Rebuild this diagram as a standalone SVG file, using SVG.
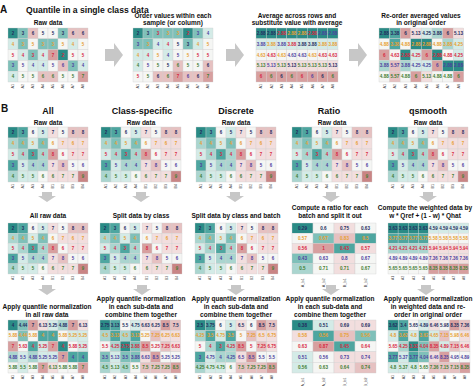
<svg xmlns="http://www.w3.org/2000/svg" width="474" height="386" viewBox="0 0 474 386">
<style>
text{font-family:"Liberation Sans",Arial,Helvetica,sans-serif;fill:#111}
.pl{font-size:10px;font-weight:bold}
.ti{font-size:8.6px;font-weight:bold}
.hd{font-size:9px;font-weight:bold;text-anchor:middle}
.st{font-size:6.5px;font-weight:bold;text-anchor:middle}
.g rect{width:10px;height:10px;stroke:#cfcfcf;stroke-width:.35}
.g.w rect{width:20px}
.g text{font-size:4.4px;font-weight:bold;text-anchor:middle}
.g text.lab{font-size:3.4px;font-weight:normal;text-anchor:start;fill:#444}
.g text.lr{font-size:3.8px}
.f0{fill:#2a8b86}.f1{fill:#4ea6a0}.f2{fill:#7fc0b9}.f3{fill:#aad5cf}.f4{fill:#d4ebe7}.f5{fill:#f5f6f4}.f6{fill:#f2dede}.f7{fill:#e6c1c1}.f8{fill:#d79f9f}.f9{fill:#c98585}
.g .t1{fill:#232c5e}.g .t2{fill:#e8a030}.g .t3{fill:#d8283f}.g .t4{fill:#4d3f9e}.g .t5{fill:#3f7d32}
.arr{fill:#c7c7c7}
</style>
<defs>
<path id="ar" class="arr" d="M0,-6H9V-12L18,0L9,12V6H0Z"/>
<path id="ad" class="arr" d="M-5,0H5V4H9L0,10L-9,4H-5Z"/>
<g class="g">
<g id="labA"><text class="lab" transform="translate(6.3,56) rotate(-90)">A1</text><text class="lab" transform="translate(16.3,56) rotate(-90)">A2</text><text class="lab" transform="translate(26.3,56) rotate(-90)">A3</text><text class="lab" transform="translate(36.3,56) rotate(-90)">A4</text><text class="lab" transform="translate(46.3,56) rotate(-90)">A5</text><text class="lab" transform="translate(56.3,56) rotate(-90)">A6</text><text class="lab" transform="translate(66.3,56) rotate(-90)">A7</text><text class="lab" transform="translate(76.3,56) rotate(-90)">A8</text></g>
<g id="labR"><text class="lab lr" transform="translate(11.3,63) rotate(-90)">A_b1</text><text class="lab lr" transform="translate(31.3,63) rotate(-90)">A_b2</text><text class="lab lr" transform="translate(51.3,63) rotate(-90)">B_b1</text><text class="lab lr" transform="translate(71.3,63) rotate(-90)">B_b2</text></g>
<g id="b1"><rect class="f0"/><rect y="10" class="f3"/><rect y="20" class="f4"/><rect y="30" class="f1"/><rect y="40" class="f3"/><text x="5" y="6.5" class="t1">2</text><text x="5" y="16.5" class="t2">4</text><text x="5" y="26.5" class="t3">5</text><text x="5" y="36.5" class="t4">3</text><text x="5" y="46.5" class="t5">4</text><text class="lab" transform="translate(6.3,56) rotate(-90)">A1</text></g>
<g id="b2"><rect class="f1"/><rect y="10" class="f2"/><rect y="20" class="f3"/><rect y="30" class="f4"/><rect y="40" class="f4"/><text x="5" y="6.5" class="t1">3</text><text x="5" y="16.5" class="t2">4</text><text x="5" y="26.5" class="t3">4</text><text x="5" y="36.5" class="t4">5</text><text x="5" y="46.5" class="t5">5</text><text class="lab" transform="translate(6.3,56) rotate(-90)">A2</text></g>
<g id="b3"><rect class="f5"/><rect y="10" class="f4"/><rect y="20" class="f1"/><rect y="30" class="f3"/><rect y="40" class="f4"/><text x="5" y="6.5" class="t1">6</text><text x="5" y="16.5" class="t2">5</text><text x="5" y="26.5" class="t3">3</text><text x="5" y="36.5" class="t4">4</text><text x="5" y="46.5" class="t5">5</text><text class="lab" transform="translate(6.3,56) rotate(-90)">A3</text></g>
<g id="b4"><rect class="f4"/><rect y="10" class="f2"/><rect y="20" class="f3"/><rect y="30" class="f3"/><rect y="40" class="f5"/><text x="5" y="6.5" class="t1">5</text><text x="5" y="16.5" class="t2">4</text><text x="5" y="26.5" class="t3">4</text><text x="5" y="36.5" class="t4">4</text><text x="5" y="46.5" class="t5">6</text><text class="lab" transform="translate(6.3,56) rotate(-90)">A4</text></g>
<g id="b5"><rect class="f6"/><rect y="10" class="f5"/><rect y="20" class="f8"/><rect y="30" class="f6"/><rect y="40" class="f6"/><text x="5" y="6.5" class="t1">7</text><text x="5" y="16.5" class="t2">6</text><text x="5" y="26.5" class="t3">8</text><text x="5" y="36.5" class="t4">7</text><text x="5" y="46.5" class="t5">6</text><text class="lab" transform="translate(6.3,56) rotate(-90)">B1</text></g>
<g id="b6"><rect class="f5"/><rect y="10" class="f6"/><rect y="20" class="f5"/><rect y="30" class="f7"/><rect y="40" class="f6"/><text x="5" y="6.5" class="t1">5</text><text x="5" y="16.5" class="t2">7</text><text x="5" y="26.5" class="t3">6</text><text x="5" y="36.5" class="t4">8</text><text x="5" y="46.5" class="t5">7</text><text class="lab" transform="translate(6.3,56) rotate(-90)">B2</text></g>
<g id="b7"><rect class="f7"/><rect y="10" class="f6"/><rect y="20" class="f6"/><rect y="30" class="f5"/><rect y="40" class="f6"/><text x="5" y="6.5" class="t1">8</text><text x="5" y="16.5" class="t2">6</text><text x="5" y="26.5" class="t3">7</text><text x="5" y="36.5" class="t4">5</text><text x="5" y="46.5" class="t5">7</text><text class="lab" transform="translate(6.3,56) rotate(-90)">B3</text></g>
<g id="b8"><rect class="f7"/><rect y="10" class="f6"/><rect y="20" class="f6"/><rect y="30" class="f5"/><rect y="40" class="f9"/><text x="5" y="6.5" class="t1">8</text><text x="5" y="16.5" class="t2">7</text><text x="5" y="26.5" class="t3">7</text><text x="5" y="36.5" class="t4">6</text><text x="5" y="46.5" class="t5">9</text><text class="lab" transform="translate(6.3,56) rotate(-90)">B4</text></g>
<g id="rawB"><use href="#b1"/><use href="#b2" x="10"/><use href="#b3" x="20"/><use href="#b4" x="30"/><use href="#b5" x="40"/><use href="#b6" x="50"/><use href="#b7" x="60"/><use href="#b8" x="70"/></g>
</g>
</defs>
<rect width="474" height="386" fill="#fff"/>

<g id="panelA-title"><text class="pl" x="0" y="13">A</text><text class="ti" x="26" y="13">Quantile in a single class data</text></g>

<g id="a-raw"><text class="st" x="48" y="25">Raw data</text>
<g class="g" transform="translate(8,28) scale(1,1.08)">
<rect class="f0"/><rect x="10" class="f2"/><rect x="20" class="f7"/><rect x="30" class="f5"/><rect x="40" class="f5"/><rect x="50" class="f2"/><rect x="60" class="f7"/><rect x="70" class="f7"/>
<rect y="10" class="f4"/><rect x="10" y="10" class="f2"/><rect x="20" y="10" class="f5"/><rect x="30" y="10" class="f2"/><rect x="40" y="10" class="f2"/><rect x="50" y="10" class="f5"/><rect x="60" y="10" class="f4"/><rect x="70" y="10" class="f5"/>
<rect y="20" class="f5"/><rect x="10" y="20" class="f4"/><rect x="20" y="20" class="f2"/><rect x="30" y="20" class="f4"/><rect x="40" y="20" class="f8"/><rect x="50" y="20" class="f0"/><rect x="60" y="20" class="f5"/><rect x="70" y="20" class="f5"/>
<rect y="30" class="f2"/><rect x="10" y="30" class="f5"/><rect x="20" y="30" class="f4"/><rect x="30" y="30" class="f4"/><rect x="40" y="30" class="f5"/><rect x="50" y="30" class="f7"/><rect x="60" y="30" class="f2"/><rect x="70" y="30" class="f4"/>
<rect y="40" class="f4"/><rect x="10" y="40" class="f5"/><rect x="20" y="40" class="f5"/><rect x="30" y="40" class="f7"/><rect x="40" y="40" class="f7"/><rect x="50" y="40" class="f5"/><rect x="60" y="40" class="f5"/><rect x="70" y="40" class="f8"/>
<text y="6.5" class="t1"><tspan x="5">2</tspan><tspan x="15">3</tspan><tspan x="25">6</tspan><tspan x="35">5</tspan><tspan x="45">5</tspan><tspan x="55">3</tspan><tspan x="65">6</tspan><tspan x="75">6</tspan></text>
<text y="16.5" class="t2"><tspan x="5">4</tspan><tspan x="15">3</tspan><tspan x="25">5</tspan><tspan x="35">3</tspan><tspan x="45">3</tspan><tspan x="55">5</tspan><tspan x="65">4</tspan><tspan x="75">5</tspan></text>
<text y="26.5" class="t3"><tspan x="5">5</tspan><tspan x="15">4</tspan><tspan x="25">3</tspan><tspan x="35">4</tspan><tspan x="45">7</tspan><tspan x="55">2</tspan><tspan x="65">5</tspan><tspan x="75">5</tspan></text>
<text y="36.5" class="t4"><tspan x="5">3</tspan><tspan x="15">5</tspan><tspan x="25">4</tspan><tspan x="35">4</tspan><tspan x="45">5</tspan><tspan x="55">6</tspan><tspan x="65">3</tspan><tspan x="75">4</tspan></text>
<text y="46.5" class="t5"><tspan x="5">4</tspan><tspan x="15">5</tspan><tspan x="25">5</tspan><tspan x="35">6</tspan><tspan x="45">6</tspan><tspan x="55">5</tspan><tspan x="65">5</tspan><tspan x="75">7</tspan></text>
<use href="#labA"/>
</g></g>

<g id="a-sorted"><text class="st" x="173" y="17.5">Order values within each</text><text class="st" x="173" y="25">sample (or column)</text>
<g class="g" transform="translate(133,28) scale(1,1.08)">
<rect class="f0"/><rect x="10" class="f2"/><rect x="20" class="f2"/><rect x="30" class="f2"/><rect x="40" class="f2"/><rect x="50" class="f0"/><rect x="60" class="f2"/><rect x="70" class="f4"/>
<rect y="10" class="f2"/><rect x="10" y="10" class="f2"/><rect x="20" y="10" class="f4"/><rect x="30" y="10" class="f4"/><rect x="40" y="10" class="f5"/><rect x="50" y="10" class="f2"/><rect x="60" y="10" class="f4"/><rect x="70" y="10" class="f5"/>
<rect y="20" class="f4"/><rect x="10" y="20" class="f4"/><rect x="20" y="20" class="f5"/><rect x="30" y="20" class="f4"/><rect x="40" y="20" class="f5"/><rect x="50" y="20" class="f5"/><rect x="60" y="20" class="f5"/><rect x="70" y="20" class="f5"/>
<rect y="30" class="f4"/><rect x="10" y="30" class="f5"/><rect x="20" y="30" class="f5"/><rect x="30" y="30" class="f5"/><rect x="40" y="30" class="f7"/><rect x="50" y="30" class="f5"/><rect x="60" y="30" class="f5"/><rect x="70" y="30" class="f7"/>
<rect y="40" class="f5"/><rect x="10" y="40" class="f5"/><rect x="20" y="40" class="f7"/><rect x="30" y="40" class="f7"/><rect x="40" y="40" class="f8"/><rect x="50" y="40" class="f7"/><rect x="60" y="40" class="f7"/><rect x="70" y="40" class="f8"/>
<text y="6.5"><tspan x="5" class="t1">2</tspan><tspan x="15" class="t1">3</tspan><tspan x="25" class="t3">3</tspan><tspan x="35" class="t2">3</tspan><tspan x="45" class="t2">3</tspan><tspan x="55" class="t3">2</tspan><tspan x="65" class="t4">3</tspan><tspan x="75" class="t4">4</tspan></text>
<text y="16.5"><tspan x="5" class="t4">3</tspan><tspan x="15" class="t2">3</tspan><tspan x="25" class="t4">4</tspan><tspan x="35" class="t3">4</tspan><tspan x="45" class="t1">5</tspan><tspan x="55" class="t1">3</tspan><tspan x="65" class="t2">4</tspan><tspan x="75" class="t2">5</tspan></text>
<text y="26.5"><tspan x="5" class="t2">4</tspan><tspan x="15" class="t3">4</tspan><tspan x="25" class="t2">5</tspan><tspan x="35" class="t4">4</tspan><tspan x="45" class="t4">5</tspan><tspan x="55" class="t2">5</tspan><tspan x="65" class="t3">5</tspan><tspan x="75" class="t3">5</tspan></text>
<text y="36.5"><tspan x="5" class="t5">4</tspan><tspan x="15" class="t4">5</tspan><tspan x="25" class="t5">5</tspan><tspan x="35" class="t1">5</tspan><tspan x="45" class="t5">6</tspan><tspan x="55" class="t5">5</tspan><tspan x="65" class="t5">5</tspan><tspan x="75" class="t1">6</tspan></text>
<text y="46.5"><tspan x="5" class="t3">5</tspan><tspan x="15" class="t5">5</tspan><tspan x="25" class="t1">6</tspan><tspan x="35" class="t5">6</tspan><tspan x="45" class="t3">7</tspan><tspan x="55" class="t4">6</tspan><tspan x="65" class="t1">6</tspan><tspan x="75" class="t5">7</tspan></text>
<use href="#labA"/>
</g></g>

<g id="a-average"><text class="st" x="297" y="17.5">Average across rows and</text><text class="st" x="297" y="25">substitute value with average</text>
<g class="g" transform="translate(256,28) scale(1.025,1.08)">
<rect class="f0"/><rect x="10" class="f0"/><rect x="20" class="f0"/><rect x="30" class="f0"/><rect x="40" class="f0"/><rect x="50" class="f0"/><rect x="60" class="f0"/><rect x="70" class="f0"/>
<rect y="10" class="f4"/><rect x="10" y="10" class="f4"/><rect x="20" y="10" class="f4"/><rect x="30" y="10" class="f4"/><rect x="40" y="10" class="f4"/><rect x="50" y="10" class="f4"/><rect x="60" y="10" class="f4"/><rect x="70" y="10" class="f4"/>
<rect y="20" class="f5"/><rect x="10" y="20" class="f5"/><rect x="20" y="20" class="f5"/><rect x="30" y="20" class="f5"/><rect x="40" y="20" class="f5"/><rect x="50" y="20" class="f5"/><rect x="60" y="20" class="f5"/><rect x="70" y="20" class="f5"/>
<rect y="30" class="f6"/><rect x="10" y="30" class="f6"/><rect x="20" y="30" class="f6"/><rect x="30" y="30" class="f6"/><rect x="40" y="30" class="f6"/><rect x="50" y="30" class="f6"/><rect x="60" y="30" class="f6"/><rect x="70" y="30" class="f6"/>
<rect y="40" class="f8"/><rect x="10" y="40" class="f8"/><rect x="20" y="40" class="f8"/><rect x="30" y="40" class="f8"/><rect x="40" y="40" class="f8"/><rect x="50" y="40" class="f8"/><rect x="60" y="40" class="f8"/><rect x="70" y="40" class="f8"/>
<text y="6.5"><tspan x="5" class="t1">2.88</tspan><tspan x="15" class="t1">2.88</tspan><tspan x="25" class="t3">2.88</tspan><tspan x="35" class="t2">2.88</tspan><tspan x="45" class="t2">2.88</tspan><tspan x="55" class="t3">2.88</tspan><tspan x="65" class="t4">2.88</tspan><tspan x="75" class="t4">2.88</tspan></text>
<text y="16.5"><tspan x="5" class="t4">3.88</tspan><tspan x="15" class="t2">3.88</tspan><tspan x="25" class="t4">3.88</tspan><tspan x="35" class="t3">3.88</tspan><tspan x="45" class="t1">3.88</tspan><tspan x="55" class="t1">3.88</tspan><tspan x="65" class="t2">3.88</tspan><tspan x="75" class="t2">3.88</tspan></text>
<text y="26.5"><tspan x="5" class="t2">4.63</tspan><tspan x="15" class="t3">4.63</tspan><tspan x="25" class="t2">4.63</tspan><tspan x="35" class="t4">4.63</tspan><tspan x="45" class="t4">4.63</tspan><tspan x="55" class="t2">4.63</tspan><tspan x="65" class="t3">4.63</tspan><tspan x="75" class="t3">4.63</tspan></text>
<text y="36.5"><tspan x="5" class="t5">5.13</tspan><tspan x="15" class="t4">5.13</tspan><tspan x="25" class="t5">5.13</tspan><tspan x="35" class="t1">5.13</tspan><tspan x="45" class="t5">5.13</tspan><tspan x="55" class="t5">5.13</tspan><tspan x="65" class="t5">5.13</tspan><tspan x="75" class="t1">5.13</tspan></text>
<text y="46.5"><tspan x="5" class="t3">6</tspan><tspan x="15" class="t5">6</tspan><tspan x="25" class="t1">6</tspan><tspan x="35" class="t5">6</tspan><tspan x="45" class="t3">6</tspan><tspan x="55" class="t4">6</tspan><tspan x="65" class="t1">6</tspan><tspan x="75" class="t5">6</tspan></text>
<use href="#labA"/>
</g></g>

<g id="a-reorder"><text class="st" x="421" y="17.5">Re-order averaged values</text><text class="st" x="421" y="25">in original order</text>
<g class="g" transform="translate(379,28) scale(1.06,1.08)">
<rect class="f0"/><rect x="10" class="f1"/><rect x="20" class="f8"/><rect x="30" class="f6"/><rect x="40" class="f4"/><rect x="50" class="f3"/><rect x="60" class="f8"/><rect x="70" class="f6"/>
<rect y="10" class="f5"/><rect x="10" y="10" class="f1"/><rect x="20" y="10" class="f5"/><rect x="30" y="10" class="f0"/><rect x="40" y="10" class="f0"/><rect x="50" y="10" class="f5"/><rect x="60" y="10" class="f3"/><rect x="70" y="10" class="f4"/>
<rect y="20" class="f8"/><rect x="10" y="20" class="f5"/><rect x="20" y="20" class="f0"/><rect x="30" y="20" class="f4"/><rect x="40" y="20" class="f8"/><rect x="50" y="20" class="f0"/><rect x="60" y="20" class="f5"/><rect x="70" y="20" class="f4"/>
<rect y="30" class="f3"/><rect x="10" y="30" class="f7"/><rect x="20" y="30" class="f3"/><rect x="30" y="30" class="f4"/><rect x="40" y="30" class="f4"/><rect x="50" y="30" class="f8"/><rect x="60" y="30" class="f0"/><rect x="70" y="30" class="f0"/>
<rect y="40" class="f5"/><rect x="10" y="40" class="f7"/><rect x="20" y="40" class="f5"/><rect x="30" y="40" class="f8"/><rect x="40" y="40" class="f6"/><rect x="50" y="40" class="f5"/><rect x="60" y="40" class="f5"/><rect x="70" y="40" class="f8"/>
<text y="6.5" class="t1"><tspan x="5">2.88</tspan><tspan x="15">3.38</tspan><tspan x="25">6</tspan><tspan x="35">5.13</tspan><tspan x="45">4.25</tspan><tspan x="55">3.88</tspan><tspan x="65">6</tspan><tspan x="75">5.13</tspan></text>
<text y="16.5" class="t2"><tspan x="5">4.88</tspan><tspan x="15">3.38</tspan><tspan x="25">4.88</tspan><tspan x="35">2.88</tspan><tspan x="45">2.88</tspan><tspan x="55">4.88</tspan><tspan x="65">3.88</tspan><tspan x="75">4.25</tspan></text>
<text y="26.5" class="t3"><tspan x="5">6</tspan><tspan x="15">4.63</tspan><tspan x="25">2.88</tspan><tspan x="35">4.25</tspan><tspan x="45">6</tspan><tspan x="55">2.88</tspan><tspan x="65">4.88</tspan><tspan x="75">4.25</tspan></text>
<text y="36.5" class="t4"><tspan x="5">3.88</tspan><tspan x="15">5.57</tspan><tspan x="25">3.88</tspan><tspan x="35">4.25</tspan><tspan x="45">4.25</tspan><tspan x="55">6</tspan><tspan x="65">2.88</tspan><tspan x="75">2.88</tspan></text>
<text y="46.5" class="t5"><tspan x="5">4.88</tspan><tspan x="15">5.57</tspan><tspan x="25">4.88</tspan><tspan x="35">6</tspan><tspan x="45">5.13</tspan><tspan x="55">4.88</tspan><tspan x="65">4.88</tspan><tspan x="75">6</tspan></text>
<use href="#labA"/>
</g></g>

<g id="panelB-title"><text class="pl" x="1" y="112">B</text>
<text class="hd" x="48" y="114">All</text><text class="hd" x="142" y="114">Class-specific</text><text class="hd" x="236" y="114">Discrete</text><text class="hd" x="329" y="114">Ratio</text><text class="hd" x="428" y="114">qsmooth</text></g>

<g id="all-raw"><text class="st" x="48" y="125">Raw data</text><g class="g" transform="translate(8,127) scale(1,1.1)"><use href="#rawB"/></g></g>
<g id="class-raw"><text class="st" x="141" y="125">Raw data</text><g class="g" transform="translate(101,127) scale(1,1.1)"><use href="#rawB"/></g></g>
<g id="discrete-raw"><text class="st" x="236" y="125">Raw data</text><g class="g" transform="translate(196,127) scale(1,1.1)"><use href="#rawB"/></g></g>
<g id="ratio-raw"><text class="st" x="332" y="125">Raw data</text><g class="g" transform="translate(292,127) scale(1,1.1)"><use href="#rawB"/></g></g>
<g id="qsmooth-raw"><text class="st" x="428" y="125">Raw data</text><g class="g" transform="translate(388,127) scale(1,1.1)"><use href="#rawB"/></g></g>

<g id="all-mid"><text class="st" x="48" y="218">All raw data</text><g class="g" transform="translate(8,223) scale(1,1.02)"><use href="#rawB"/></g></g>
<g id="class-mid"><text class="st" x="141" y="218">Split data by class</text><g class="g" transform="translate(100,223) scale(1,1.02)"><use href="#b1"/><use href="#b2" x="10"/><use href="#b3" x="20"/><use href="#b4" x="30"/><use href="#b5" x="42"/><use href="#b6" x="52"/><use href="#b7" x="62"/><use href="#b8" x="72"/></g></g>
<g id="discrete-mid"><text class="st" x="236" y="218">Split data by class and batch</text><g class="g" transform="translate(195,223) scale(1,1.02)"><use href="#b1"/><use href="#b2" x="10"/><use href="#b3" x="21"/><use href="#b4" x="31"/><use href="#b5" x="42"/><use href="#b6" x="52"/><use href="#b7" x="63"/><use href="#b8" x="73"/></g></g>

<g id="ratio-mid"><text class="st" x="330" y="210">Compute a ratio for each</text><text class="st" x="330" y="218">batch and split it out</text>
<g class="g w" transform="translate(292,223) scale(1.05,1.02)">
<rect class="f0"/><rect x="20" class="f5"/><rect x="40" class="f6"/><rect x="60" class="f5"/>
<rect y="10" class="f5"/><rect x="20" y="10" class="f2"/><rect x="40" y="10" class="f7"/><rect x="60" y="10" class="f1"/>
<rect y="20" class="f6"/><rect x="20" y="20" class="f8"/><rect x="40" y="20" class="f1"/><rect x="60" y="20" class="f6"/>
<rect y="30" class="f2"/><rect x="20" y="30" class="f5"/><rect x="40" y="30" class="f6"/><rect x="60" y="30" class="f5"/>
<rect y="40" class="f3"/><rect x="20" y="40" class="f5"/><rect x="40" y="40" class="f6"/><rect x="60" y="40" class="f5"/>
<text y="6.5" class="t1"><tspan x="10">0.29</tspan><tspan x="30">0.6</tspan><tspan x="50">0.75</tspan><tspan x="70">0.63</tspan></text>
<text y="16.5" class="t2"><tspan x="10">0.57</tspan><tspan x="30">0.67</tspan><tspan x="50">0.83</tspan><tspan x="70">0.5</tspan></text>
<text y="26.5" class="t3"><tspan x="10">0.56</tspan><tspan x="30">1</tspan><tspan x="50">0.43</tspan><tspan x="70">0.57</tspan></text>
<text y="36.5" class="t4"><tspan x="10">0.43</tspan><tspan x="30">0.63</tspan><tspan x="50">0.8</tspan><tspan x="70">0.67</tspan></text>
<text y="46.5" class="t5"><tspan x="10">0.5</tspan><tspan x="30">0.71</tspan><tspan x="50">0.71</tspan><tspan x="70">0.67</tspan></text>
<use href="#labR"/>
</g></g>

<g id="qsmooth-mid"><text class="st" x="425" y="210">Compute the weighted data by</text><text class="st" x="425" y="218">w * Qref + (1 - w) * Qhat</text>
<g class="g" transform="translate(388,223) scale(1.01,1.02)">
<rect class="f0"/><rect x="10" class="f0"/><rect x="20" class="f0"/><rect x="30" class="f0"/><rect x="40" class="f4"/><rect x="50" class="f4"/><rect x="60" class="f4"/><rect x="70" class="f4"/>
<rect y="10" class="f1"/><rect x="10" y="10" class="f1"/><rect x="20" y="10" class="f1"/><rect x="30" y="10" class="f1"/><rect x="40" y="10" class="f5"/><rect x="50" y="10" class="f5"/><rect x="60" y="10" class="f5"/><rect x="70" y="10" class="f5"/>
<rect y="20" class="f3"/><rect x="10" y="20" class="f3"/><rect x="20" y="20" class="f3"/><rect x="30" y="20" class="f3"/><rect x="40" y="20" class="f6"/><rect x="50" y="20" class="f6"/><rect x="60" y="20" class="f6"/><rect x="70" y="20" class="f6"/>
<rect y="30" class="f5"/><rect x="10" y="30" class="f5"/><rect x="20" y="30" class="f5"/><rect x="30" y="30" class="f5"/><rect x="40" y="30" class="f6"/><rect x="50" y="30" class="f6"/><rect x="60" y="30" class="f6"/><rect x="70" y="30" class="f6"/>
<rect y="40" class="f5"/><rect x="10" y="40" class="f5"/><rect x="20" y="40" class="f5"/><rect x="30" y="40" class="f5"/><rect x="40" y="40" class="f8"/><rect x="50" y="40" class="f8"/><rect x="60" y="40" class="f8"/><rect x="70" y="40" class="f8"/>
<text y="6.5" class="t1"><tspan x="5">3.63</tspan><tspan x="15">3.63</tspan><tspan x="25">3.63</tspan><tspan x="35">3.63</tspan><tspan x="45">4.59</tspan><tspan x="55">4.59</tspan><tspan x="65">4.59</tspan><tspan x="75">4.59</tspan></text>
<text y="16.5" class="t2"><tspan x="5">3.77</tspan><tspan x="15">3.77</tspan><tspan x="25">3.77</tspan><tspan x="35">3.77</tspan><tspan x="45">5.58</tspan><tspan x="55">5.58</tspan><tspan x="65">5.58</tspan><tspan x="75">5.58</tspan></text>
<text y="26.5" class="t3"><tspan x="5">4.21</tspan><tspan x="15">4.21</tspan><tspan x="25">4.21</tspan><tspan x="35">4.21</tspan><tspan x="45">5.94</tspan><tspan x="55">5.94</tspan><tspan x="65">5.94</tspan><tspan x="75">5.94</tspan></text>
<text y="36.5" class="t4"><tspan x="5">4.89</tspan><tspan x="15">4.89</tspan><tspan x="25">4.89</tspan><tspan x="35">4.89</tspan><tspan x="45">7.36</tspan><tspan x="55">7.36</tspan><tspan x="65">7.36</tspan><tspan x="75">7.36</tspan></text>
<text y="46.5" class="t5"><tspan x="5">5.65</tspan><tspan x="15">5.65</tspan><tspan x="25">5.65</tspan><tspan x="35">5.65</tspan><tspan x="45">8.35</tspan><tspan x="55">8.35</tspan><tspan x="65">8.35</tspan><tspan x="75">8.35</tspan></text>
<use href="#labA"/>
</g></g>

<g id="all-out"><text class="st" x="47" y="309">Apply quantile normalization</text><text class="st" x="47" y="317.3">in all raw data</text>
<g class="g" transform="translate(8,320) scale(1,1.06)">
<rect class="f0"/><rect x="10" class="f2"/><rect x="20" class="f8"/><rect x="30" class="f6"/><rect x="40" class="f4"/><rect x="50" class="f3"/><rect x="60" class="f8"/><rect x="70" class="f6"/>
<rect y="10" class="f5"/><rect x="10" y="10" class="f2"/><rect x="20" y="10" class="f5"/><rect x="30" y="10" class="f1"/><rect x="40" y="10" class="f1"/><rect x="50" y="10" class="f5"/><rect x="60" y="10" class="f4"/><rect x="70" y="10" class="f4"/>
<rect y="20" class="f8"/><rect x="10" y="20" class="f5"/><rect x="20" y="20" class="f1"/><rect x="30" y="20" class="f4"/><rect x="40" y="20" class="f8"/><rect x="50" y="20" class="f0"/><rect x="60" y="20" class="f5"/><rect x="70" y="20" class="f4"/>
<rect y="30" class="f3"/><rect x="10" y="30" class="f4"/><rect x="20" y="30" class="f3"/><rect x="30" y="30" class="f4"/><rect x="40" y="30" class="f4"/><rect x="50" y="30" class="f8"/><rect x="60" y="30" class="f1"/><rect x="70" y="30" class="f1"/>
<rect y="40" class="f5"/><rect x="10" y="40" class="f4"/><rect x="20" y="40" class="f5"/><rect x="30" y="40" class="f8"/><rect x="40" y="40" class="f6"/><rect x="50" y="40" class="f5"/><rect x="60" y="40" class="f5"/><rect x="70" y="40" class="f8"/>
<text y="6.5" class="t1"><tspan x="5">4</tspan><tspan x="15">4.44</tspan><tspan x="25">7</tspan><tspan x="35">6.13</tspan><tspan x="45">5.25</tspan><tspan x="55">4.88</tspan><tspan x="65">7</tspan><tspan x="75">6.13</tspan></text>
<text y="16.5" class="t2"><tspan x="5">5.88</tspan><tspan x="15">4.44</tspan><tspan x="25">5.88</tspan><tspan x="35">4</tspan><tspan x="45">4</tspan><tspan x="55">5.88</tspan><tspan x="65">5.25</tspan><tspan x="75">5.25</tspan></text>
<text y="26.5" class="t3"><tspan x="5">7</tspan><tspan x="15">5.63</tspan><tspan x="25">4</tspan><tspan x="35">5.25</tspan><tspan x="45">7</tspan><tspan x="55">4</tspan><tspan x="65">5.88</tspan><tspan x="75">5.25</tspan></text>
<text y="36.5" class="t4"><tspan x="5">4.88</tspan><tspan x="15">5.5</tspan><tspan x="25">4.88</tspan><tspan x="35">5.25</tspan><tspan x="45">5.25</tspan><tspan x="55">7</tspan><tspan x="65">4</tspan><tspan x="75">4</tspan></text>
<text y="46.5" class="t5"><tspan x="5">5.88</tspan><tspan x="15">5.5</tspan><tspan x="25">5.88</tspan><tspan x="35">7</tspan><tspan x="45">6.13</tspan><tspan x="55">5.88</tspan><tspan x="65">5.88</tspan><tspan x="75">7</tspan></text>
<use href="#labA"/>
</g></g>

<g id="class-out"><text class="st" x="141" y="300.5">Apply quantile normalization</text><text class="st" x="141" y="308.8">in each sub-data and</text><text class="st" x="141" y="317">combine them together</text>
<g class="g" transform="translate(100,320) scale(1.01,1.06)">
<rect class="f0"/><rect x="10" class="f1"/><rect x="20" class="f5"/><rect x="30" class="f4"/><rect x="40" class="f6"/><rect x="50" class="f6"/><rect x="60" class="f8"/><rect x="70" class="f7"/>
<rect y="10" class="f3"/><rect x="10" y="10" class="f1"/><rect x="20" y="10" class="f3"/><rect x="30" y="10" class="f1"/><rect x="40" y="10" class="f5"/><rect x="50" y="10" class="f7"/><rect x="60" y="10" class="f6"/><rect x="70" y="10" class="f6"/>
<rect y="20" class="f5"/><rect x="10" y="20" class="f3"/><rect x="20" y="20" class="f0"/><rect x="30" y="20" class="f2"/><rect x="40" y="20" class="f8"/><rect x="50" y="20" class="f5"/><rect x="60" y="20" class="f7"/><rect x="70" y="20" class="f6"/>
<rect y="30" class="f2"/><rect x="10" y="30" class="f4"/><rect x="20" y="30" class="f2"/><rect x="30" y="30" class="f2"/><rect x="40" y="30" class="f6"/><rect x="50" y="30" class="f8"/><rect x="60" y="30" class="f5"/><rect x="70" y="30" class="f5"/>
<rect y="40" class="f3"/><rect x="10" y="40" class="f4"/><rect x="20" y="40" class="f3"/><rect x="30" y="40" class="f5"/><rect x="40" y="40" class="f7"/><rect x="50" y="40" class="f7"/><rect x="60" y="40" class="f7"/><rect x="70" y="40" class="f8"/>
<text y="6.5" class="t1"><tspan x="5">2.75</tspan><tspan x="15">3.13</tspan><tspan x="25">5.5</tspan><tspan x="35">4.75</tspan><tspan x="45">6.63</tspan><tspan x="55">6.25</tspan><tspan x="65">8.5</tspan><tspan x="75">7.5</tspan></text>
<text y="16.5" class="t2"><tspan x="5">4.5</tspan><tspan x="15">3.13</tspan><tspan x="25">4.5</tspan><tspan x="35">3.13</tspan><tspan x="45">5.25</tspan><tspan x="55">7.25</tspan><tspan x="65">6.25</tspan><tspan x="75">6.63</tspan></text>
<text y="26.5" class="t3"><tspan x="5">5.5</tspan><tspan x="15">4.25</tspan><tspan x="25">2.75</tspan><tspan x="35">3.88</tspan><tspan x="45">8.5</tspan><tspan x="55">5.25</tspan><tspan x="65">7.25</tspan><tspan x="75">6.63</tspan></text>
<text y="36.5" class="t4"><tspan x="5">3.5</tspan><tspan x="15">5.13</tspan><tspan x="25">3.5</tspan><tspan x="35">3.88</tspan><tspan x="45">6.63</tspan><tspan x="55">8.5</tspan><tspan x="65">5.25</tspan><tspan x="75">5.25</tspan></text>
<text y="46.5" class="t5"><tspan x="5">4.5</tspan><tspan x="15">5.13</tspan><tspan x="25">4.5</tspan><tspan x="35">5.5</tspan><tspan x="45">7.5</tspan><tspan x="55">7.25</tspan><tspan x="65">7.25</tspan><tspan x="75">8.5</tspan></text>
<use href="#labA"/>
</g></g>

<g id="discrete-out"><text class="st" x="236" y="300.5">Apply quantile normalization</text><text class="st" x="236" y="308.8">in each sub-data and</text><text class="st" x="236" y="317">combine them together</text>
<g class="g" transform="translate(195,320) scale(1.025,1.06)">
<rect class="f0"/><rect x="10" class="f1"/><rect x="20" class="f5"/><rect x="30" class="f4"/><rect x="40" class="f6"/><rect x="50" class="f5"/><rect x="60" class="f8"/><rect x="70" class="f7"/>
<rect y="10" class="f3"/><rect x="10" y="10" class="f1"/><rect x="20" y="10" class="f4"/><rect x="30" y="10" class="f1"/><rect x="40" y="10" class="f5"/><rect x="50" y="10" class="f7"/><rect x="60" y="10" class="f6"/><rect x="70" y="10" class="f6"/>
<rect y="20" class="f5"/><rect x="10" y="20" class="f3"/><rect x="20" y="20" class="f1"/><rect x="30" y="20" class="f3"/><rect x="40" y="20" class="f8"/><rect x="50" y="20" class="f5"/><rect x="60" y="20" class="f7"/><rect x="70" y="20" class="f6"/>
<rect y="30" class="f1"/><rect x="10" y="30" class="f4"/><rect x="20" y="30" class="f3"/><rect x="30" y="30" class="f3"/><rect x="40" y="30" class="f6"/><rect x="50" y="30" class="f8"/><rect x="60" y="30" class="f5"/><rect x="70" y="30" class="f5"/>
<rect y="40" class="f3"/><rect x="10" y="40" class="f4"/><rect x="20" y="40" class="f4"/><rect x="30" y="40" class="f5"/><rect x="40" y="40" class="f7"/><rect x="50" y="40" class="f7"/><rect x="60" y="40" class="f7"/><rect x="70" y="40" class="f8"/>
<text y="6.5" class="t1"><tspan x="5">2.5</tspan><tspan x="15">3.75</tspan><tspan x="25">6</tspan><tspan x="35">5</tspan><tspan x="45">6.5</tspan><tspan x="55">6</tspan><tspan x="65">8.5</tspan><tspan x="75">7.5</tspan></text>
<text y="16.5" class="t2"><tspan x="5">4.25</tspan><tspan x="15">3.5</tspan><tspan x="25">4.75</tspan><tspan x="35">3.5</tspan><tspan x="45">5</tspan><tspan x="55">7.25</tspan><tspan x="65">6.5</tspan><tspan x="75">6.75</tspan></text>
<text y="26.5" class="t3"><tspan x="5">5</tspan><tspan x="15">4</tspan><tspan x="25">3</tspan><tspan x="35">4.25</tspan><tspan x="45">8.5</tspan><tspan x="55">5</tspan><tspan x="65">7.25</tspan><tspan x="75">6.75</tspan></text>
<text y="36.5" class="t4"><tspan x="5">3</tspan><tspan x="15">4.75</tspan><tspan x="25">4</tspan><tspan x="35">4.25</tspan><tspan x="45">6.5</tspan><tspan x="55">8.5</tspan><tspan x="65">5.5</tspan><tspan x="75">5.5</tspan></text>
<text y="46.5" class="t5"><tspan x="5">4.25</tspan><tspan x="15">4.75</tspan><tspan x="25">4.75</tspan><tspan x="35">6</tspan><tspan x="45">7.5</tspan><tspan x="55">7.25</tspan><tspan x="65">7.25</tspan><tspan x="75">8.5</tspan></text>
<use href="#labA"/>
</g></g>

<g id="ratio-out"><text class="st" x="330" y="300.5">Apply quantile normalization</text><text class="st" x="330" y="308.8">in each sub-data and</text><text class="st" x="330" y="317">combine them together</text>
<g class="g w" transform="translate(292,320) scale(1.05,1.06)">
<rect class="f0"/><rect x="20" class="f4"/><rect x="40" class="f6"/><rect x="60" class="f6"/>
<rect y="10" class="f6"/><rect x="20" y="10" class="f1"/><rect x="40" y="10" class="f7"/><rect x="60" y="10" class="f2"/>
<rect y="20" class="f5"/><rect x="20" y="20" class="f8"/><rect x="40" y="20" class="f1"/><rect x="60" y="20" class="f5"/>
<rect y="30" class="f4"/><rect x="20" y="30" class="f5"/><rect x="40" y="30" class="f6"/><rect x="60" y="30" class="f6"/>
<rect y="40" class="f4"/><rect x="20" y="40" class="f5"/><rect x="40" y="40" class="f6"/><rect x="60" y="40" class="f7"/>
<text y="6.5" class="t1"><tspan x="10">0.38</tspan><tspan x="30">0.51</tspan><tspan x="50">0.69</tspan><tspan x="70">0.69</tspan></text>
<text y="16.5" class="t2"><tspan x="10">0.58</tspan><tspan x="30">0.56</tspan><tspan x="50">0.75</tspan><tspan x="70">0.56</tspan></text>
<text y="26.5" class="t3"><tspan x="10">0.63</tspan><tspan x="30">0.87</tspan><tspan x="50">0.45</tspan><tspan x="70">0.64</tspan></text>
<text y="36.5" class="t4"><tspan x="10">0.51</tspan><tspan x="30">0.56</tspan><tspan x="50">0.73</tspan><tspan x="70">0.74</tspan></text>
<text y="46.5" class="t5"><tspan x="10">0.56</tspan><tspan x="30">0.63</tspan><tspan x="50">0.64</tspan><tspan x="70">0.74</tspan></text>
<use href="#labR"/>
</g></g>

<g id="qsmooth-out"><text class="st" x="428" y="300.5">Apply quantile normalization</text><text class="st" x="428" y="308.8">in weighted data and re-</text><text class="st" x="428" y="317">order in original order</text>
<g class="g" transform="translate(388,320) scale(1.025,1.06)">
<rect class="f0"/><rect x="10" class="f1"/><rect x="20" class="f5"/><rect x="30" class="f4"/><rect x="40" class="f6"/><rect x="50" class="f5"/><rect x="60" class="f8"/><rect x="70" class="f7"/>
<rect y="10" class="f4"/><rect x="10" y="10" class="f1"/><rect x="20" y="10" class="f4"/><rect x="30" y="10" class="f1"/><rect x="40" y="10" class="f4"/><rect x="50" y="10" class="f7"/><rect x="60" y="10" class="f5"/><rect x="70" y="10" class="f6"/>
<rect y="20" class="f5"/><rect x="10" y="20" class="f3"/><rect x="20" y="20" class="f0"/><rect x="30" y="20" class="f2"/><rect x="40" y="20" class="f8"/><rect x="50" y="20" class="f4"/><rect x="60" y="20" class="f7"/><rect x="70" y="20" class="f6"/>
<rect y="30" class="f1"/><rect x="10" y="30" class="f4"/><rect x="20" y="30" class="f1"/><rect x="30" y="30" class="f2"/><rect x="40" y="30" class="f6"/><rect x="50" y="30" class="f8"/><rect x="60" y="30" class="f5"/><rect x="70" y="30" class="f5"/>
<rect y="40" class="f4"/><rect x="10" y="40" class="f4"/><rect x="20" y="40" class="f4"/><rect x="30" y="40" class="f5"/><rect x="40" y="40" class="f7"/><rect x="50" y="40" class="f7"/><rect x="60" y="40" class="f7"/><rect x="70" y="40" class="f8"/>
<text y="6.5" class="t1"><tspan x="5">3.62</tspan><tspan x="15">3.4</tspan><tspan x="25">5.65</tspan><tspan x="35">4.89</tspan><tspan x="45">6.46</tspan><tspan x="55">5.98</tspan><tspan x="65">8.35</tspan><tspan x="75">7.36</tspan></text>
<text y="16.5" class="t2"><tspan x="5">4.8</tspan><tspan x="15">3.62</tspan><tspan x="25">4.8</tspan><tspan x="35">3.62</tspan><tspan x="45">4.65</tspan><tspan x="55">7.15</tspan><tspan x="65">5.98</tspan><tspan x="75">6.46</tspan></text>
<text y="26.5" class="t3"><tspan x="5">5.65</tspan><tspan x="15">4.25</tspan><tspan x="25">3.33</tspan><tspan x="35">4.04</tspan><tspan x="45">8.35</tspan><tspan x="55">4.89</tspan><tspan x="65">7.15</tspan><tspan x="75">6.46</tspan></text>
<text y="36.5" class="t4"><tspan x="5">3.77</tspan><tspan x="15">5.37</tspan><tspan x="25">3.77</tspan><tspan x="35">4.04</tspan><tspan x="45">6.46</tspan><tspan x="55">8.35</tspan><tspan x="65">4.95</tspan><tspan x="75">4.89</tspan></text>
<text y="46.5" class="t5"><tspan x="5">4.8</tspan><tspan x="15">5.37</tspan><tspan x="25">4.8</tspan><tspan x="35">5.65</tspan><tspan x="45">7.36</tspan><tspan x="55">7.15</tspan><tspan x="65">7.15</tspan><tspan x="75">8.35</tspan></text>
<use href="#labA"/>
</g></g>

<g id="connectors">
<use href="#ar" x="105" y="55"/><use href="#ar" x="226" y="55"/><use href="#ar" x="349" y="55"/>
<use href="#ad" x="47" y="192"/><use href="#ad" x="141" y="192"/><use href="#ad" x="235" y="192"/><use href="#ad" x="331" y="192"/><use href="#ad" x="428" y="192"/>
<use href="#ad" x="47" y="285"/><use href="#ad" x="142" y="285"/><use href="#ad" x="236" y="285"/><use href="#ad" x="331" y="285"/><use href="#ad" x="426" y="285"/>
</g>
</svg>
